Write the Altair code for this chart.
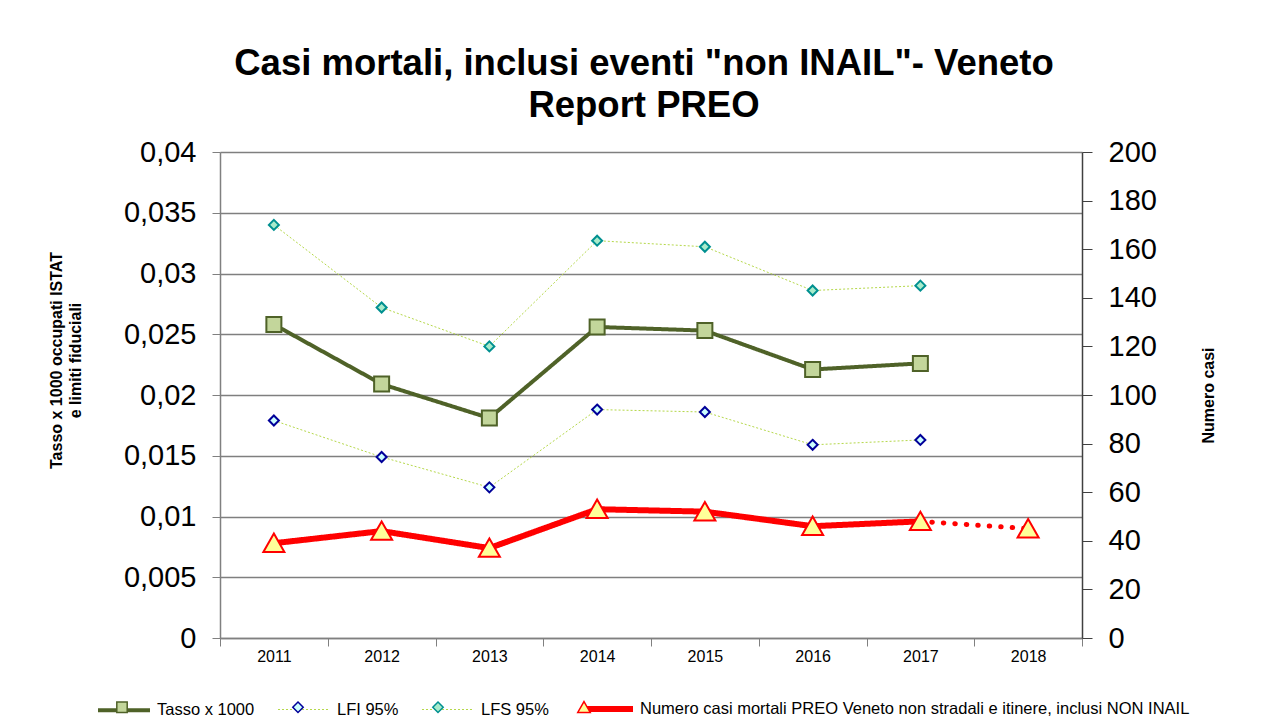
import altair as alt
import pandas as pd

years = ["2011", "2012", "2013", "2014", "2015", "2016", "2017", "2018"]
tasso = [0.0258, 0.0209, 0.0181, 0.0256, 0.0253, 0.0221, 0.0226]
lfi = [0.0179, 0.0149, 0.0124, 0.0188, 0.0186, 0.0159, 0.0163]
lfs = [0.0340, 0.0272, 0.0240, 0.0327, 0.0322, 0.0286, 0.0290]
numero = [39, 44, 37, 53, 52, 46, 48, 45]

series_names = [
    "Tasso x 1000",
    "LFI 95%",
    "LFS 95%",
    "Numero casi mortali PREO Veneto non stradali e itinere, inclusi NON INAIL",
]
# marker legend uses its own keys ("m_" + name) so it stays a separate, overlapping legend
marker_keys = ["m_" + s for s in series_names]
left_ticks = [0, 0.005, 0.01, 0.015, 0.02, 0.025, 0.03, 0.035, 0.04]
right_ticks = [0, 20, 40, 60, 80, 100, 120, 140, 160, 180, 200]

line_colors = ["#4F6228", "#B5D84A", "#B5D84A", "#FF0000"]
line_dashes = [[1, 0], [2, 2], [2, 2], [1, 0]]
line_widths = [4, 1, 1, 6]
# marker outlines (unit box -1..1, kept small so that legend and plot markers share them)
SQUARE = "M-0.2,-0.2H0.2V0.2H-0.2Z"
DIAMOND = "M0,-0.2L0.2,0L0,0.2L-0.2,0Z"
TRIANGLE = "M0,-0.22L0.24,0.2L-0.24,0.2Z"
marker_shapes = [SQUARE, DIAMOND, DIAMOND, TRIANGLE]
marker_fills = ["#C3D69B", "#CCFFFF", "#A8EBCB", "#FFFF99"]
marker_strokes = ["#4F6228", "#000099", "#009090", "#FF0000"]

FONT = "Liberation Sans"

# ---- data tables ----
rows = []
for name, key, vals in zip(series_names[:3], marker_keys[:3], [tasso, lfi, lfs]):
    for y, v in zip(years, vals):
        rows.append({"year": y, "series": name, "series_m": key, "value": v})
left_df = pd.DataFrame(rows)
tasso_df = left_df[left_df["series"] == series_names[0]]
lim_df = left_df[left_df["series"] != series_names[0]]

num_df = pd.DataFrame({"year": years, "value": numero})
num_df["series"] = series_names[3]
num_df["series_m"] = marker_keys[3]
num_solid = num_df[num_df["year"] <= "2017"]
num_dotted = num_df[num_df["year"] >= "2017"]

# ---- legends (two overlapping legends: lines + markers) ----
legX = -125
legY = 528
SYM = 2704
LFS_ = 16.5
legA = alt.Legend(
    title=None, orient="none", legendX=legX, legendY=legY, direction="horizontal",
    columns=4, columnPadding=20, labelOffset=4, symbolSize=SYM, symbolType="stroke",
    labelFontSize=LFS_, labelColor="black", labelFont=FONT, labelLimit=800, padding=0,
)
legB = alt.Legend(
    title=None, orient="none", legendX=legX, legendY=legY, direction="horizontal",
    columns=4, columnPadding=20, labelOffset=4, symbolSize=SYM, symbolStrokeWidth=1.5,
    labelFontSize=LFS_, labelColor="black", labelFont=FONT, labelLimit=800, padding=0,
    labelOpacity=0, labelExpr="slice(datum.label, 2)",
)

color_enc = alt.Color("series:N", scale=alt.Scale(domain=series_names, range=line_colors), legend=legA)
dash_enc = alt.StrokeDash("series:N", scale=alt.Scale(domain=series_names, range=line_dashes), legend=legA)
width_enc = alt.StrokeWidth("series:N", scale=alt.Scale(type="ordinal", domain=series_names, range=line_widths), legend=legA)

shape_enc = alt.Shape("series_m:N", scale=alt.Scale(domain=marker_keys, range=marker_shapes), legend=legB)
fill_enc = alt.Fill("series_m:N", scale=alt.Scale(domain=marker_keys, range=marker_fills), legend=legB)
stroke_enc = alt.Stroke("series_m:N", scale=alt.Scale(domain=marker_keys, range=marker_strokes), legend=legB)

x_enc = alt.X(
    "year:N",
    scale=alt.Scale(type="band", domain=years, paddingInner=0, paddingOuter=0),
    axis=alt.Axis(
        title=None, tickBand="extent", labelFontSize=16, labelColor="black", labelFont=FONT,
        tickSize=8, tickColor="#808080", domainColor="#808080", domainWidth=1.5,
        labelPadding=2, labelAngle=0, grid=False,
    ),
)

y_left = alt.Y(
    "value:Q",
    scale=alt.Scale(domain=[0, 0.04], nice=False, zero=True),
    axis=alt.Axis(
        values=left_ticks,
        labelExpr="replace(toString(datum.value), '.', ',')",
        labelFontSize=29, labelColor="black", labelFont=FONT, labelPadding=16,
        tickSize=8, tickColor="#808080", domainColor="#808080", domainWidth=1.5,
        grid=True, gridColor="#7F7F7F", gridWidth=1.3,
        title=["Tasso x 1000 occupati ISTAT", "e limiti fiduciali"],
        titleFontSize=16, titleFontWeight="bold", titleFont=FONT, titleColor="black",
        titleAngle=270, titlePadding=40, titleLineHeight=19, titleY=208,
    ),
)

y_right = alt.Y(
    "value:Q",
    scale=alt.Scale(domain=[0, 200], nice=False, zero=True),
    axis=alt.Axis(
        orient="right", values=right_ticks,
        labelFontSize=29, labelColor="black", labelFont=FONT, labelPadding=16,
        tickSize=10, tickColor="#404040", domainColor="#404040", domainWidth=1.5,
        grid=False,
        title="Numero casi", titleFontSize=16, titleFontWeight="bold", titleFont=FONT,
        titleColor="black", titleAngle=270, titleBaseline="top", titlePadding=44,
    ),
)

left_lines = alt.Chart(left_df).mark_line().encode(
    x=x_enc, y=y_left, color=color_enc, strokeDash=dash_enc, strokeWidth=width_enc,
)
tasso_points = alt.Chart(tasso_df).mark_point(filled=True, opacity=1, strokeWidth=2, size=5625).encode(
    x=x_enc, y=y_left, shape=shape_enc, fill=fill_enc, stroke=stroke_enc,
)
lim_points = alt.Chart(lim_df).mark_point(filled=True, opacity=1, strokeWidth=2, size=2500).encode(
    x=x_enc, y=y_left, shape=shape_enc, fill=fill_enc, stroke=stroke_enc,
)
left = alt.layer(left_lines, tasso_points, lim_points)

right_line = alt.Chart(num_solid).mark_line().encode(
    x=x_enc, y=y_right, color=color_enc, strokeDash=dash_enc, strokeWidth=width_enc,
)
right_dotted = alt.Chart(num_dotted).mark_line(
    color="#FF0000", strokeWidth=5, strokeDash=[0.5, 11], strokeCap="round"
).encode(x=x_enc, y=y_right)
right_points = alt.Chart(num_df).mark_point(filled=True, opacity=1, strokeWidth=2, size=7656).encode(
    x=x_enc, y=y_right, shape=shape_enc, fill=fill_enc, stroke=stroke_enc,
)
right = alt.layer(right_line, right_dotted, right_points)

chart = (
    alt.layer(left, right)
    .resolve_scale(y="independent")
    .properties(
        width=862,
        height=486,
        autosize=alt.AutoSizeParams(type="none"),
        padding={"left": 212, "top": 144, "right": 176, "bottom": 80},
        title=alt.TitleParams(
            text=['Casi mortali, inclusi eventi "non INAIL"- Veneto', "Report PREO"],
            fontSize=36.5, fontWeight="bold", font=FONT, color="black",
            anchor="middle", frame="group", offset=14, lineHeight=42, dx=-7,
        ),
    )
    .configure(font=FONT)
    .configure_view(stroke=None)
)

chart.save("out.html", embed_options={"renderer": "svg", "actions": False})
